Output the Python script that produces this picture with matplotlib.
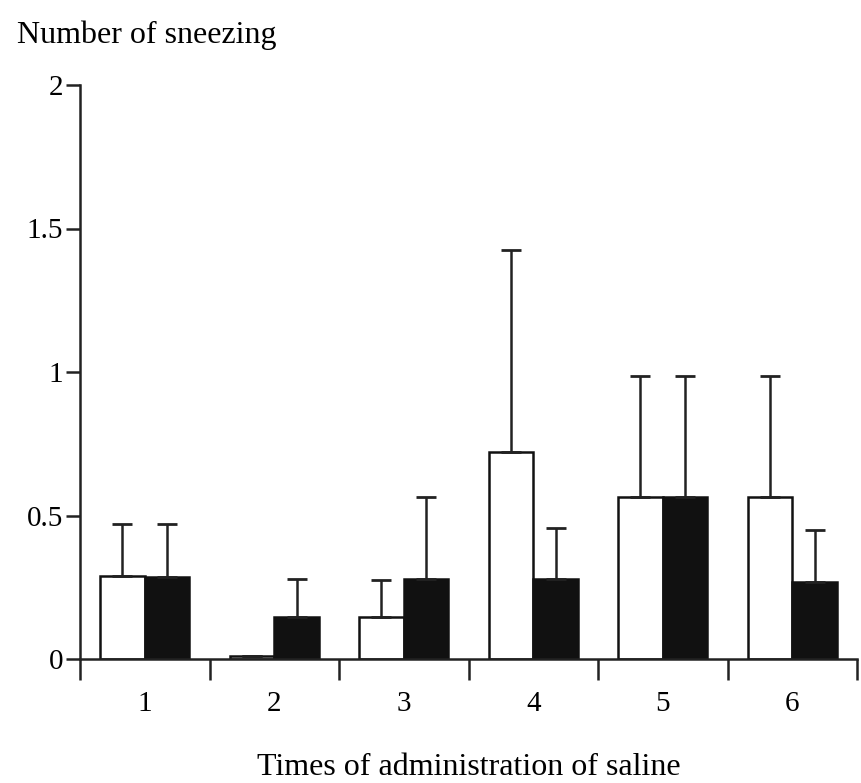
import numpy as np
import matplotlib.pyplot as plt

plt.rcParams['font.family'] = ['Liberation Serif', 'DejaVu Serif']

times = ["1", "2", "3", "4", "5", "6"]
white_mean = [0.29, 0.01, 0.146, 0.72, 0.566, 0.566]
white_err = [0.18, 0.0, 0.13, 0.705, 0.42, 0.42]
black_mean = [0.287, 0.146, 0.28, 0.278, 0.566, 0.268]
black_err = [0.183, 0.134, 0.285, 0.18, 0.42, 0.182]

x = np.arange(len(times))
w = 0.345

fig = plt.figure(figsize=(8.61, 7.83), dpi=100)
ax = fig.add_axes([80 / 861, 124 / 783, 777 / 861, 574 / 783])

err_kw = dict(ecolor="#222222", elinewidth=1.8, capsize=7, capthick=2)
ax.bar(x - w / 2, white_mean, w, color="white", edgecolor="#111111", linewidth=1.8,
       yerr=[np.zeros(len(x)), white_err], error_kw=err_kw)
ax.bar(x + w / 2, black_mean, w, color="#111111", edgecolor="#111111", linewidth=1.8,
       yerr=[np.zeros(len(x)), black_err], error_kw=err_kw)

ax.set_xlim(-0.5, 5.5)
ax.set_ylim(0, 2)
ax.spines["top"].set_visible(False)
ax.spines["right"].set_visible(False)
for s in ["left", "bottom"]:
    ax.spines[s].set_linewidth(1.8)
    ax.spines[s].set_color("#222222")

ax.set_xticks(x)
ax.set_xticklabels(times)
ax.set_xticks(np.arange(-0.5, 6, 1), minor=True)
ax.tick_params(axis="x", which="major", length=0, pad=23, labelsize=21)
ax.tick_params(axis="x", which="minor", length=15, width=1.8, direction="out", color="#222222")

ax.set_yticks([0, 0.5, 1, 1.5, 2])
ax.set_yticklabels(["0", "0.5", "1", "1.5", "2"])
ax.tick_params(axis="y", length=10, width=1.8, direction="out", labelsize=21, pad=2, color="#222222")

ax.set_xlabel("Times of administration of saline", fontsize=23, labelpad=26)
fig.text(17 / 861, 1 - 35 / 783, "Number of sneezing", fontsize=23, va="center", ha="left")

fig.savefig("out.png", dpi=100)
